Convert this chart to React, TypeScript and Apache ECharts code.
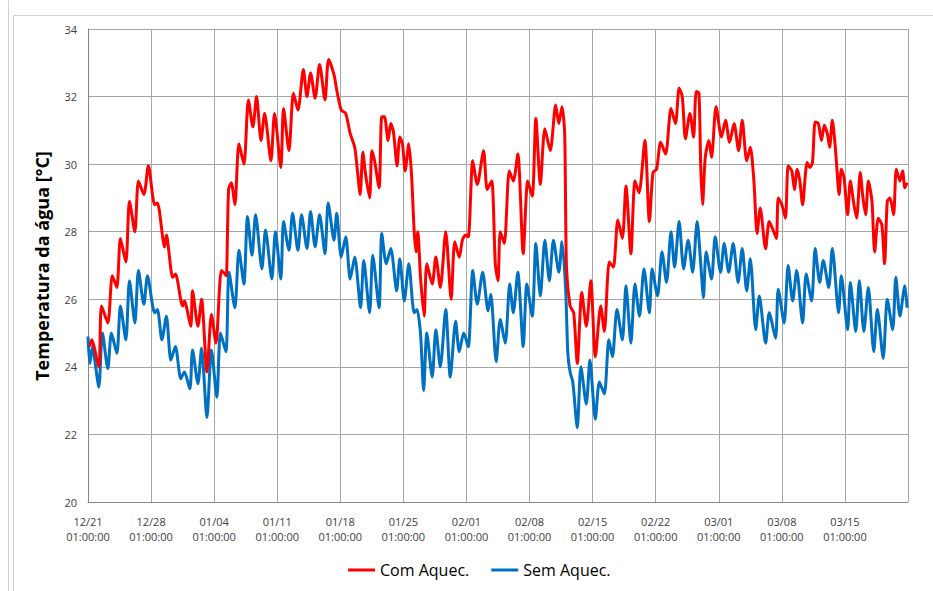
import { useEffect, useRef } from "react";
import * as echarts from "echarts";

// x values are days since 12/21 01:00:00
const xTickLabels = ["12/21", "12/28", "01/04", "01/11", "01/18", "01/25", "02/01", "02/08", "02/15", "02/22", "03/01", "03/08", "03/15"];
const yTicks = { min: 20, max: 34, interval: 2 };

const comAquec: [number, number][] = [
  [0.2, 24.6], [0.4, 24.8], [1.2, 24.0], [1.5, 25.8], [2.2, 25.3], [2.7, 26.7], [3.2, 26.35], [3.6, 27.8], [4.2, 27.1], [4.6, 28.9],
  [5.2, 28.0], [5.6, 29.5], [6.2, 29.1], [6.7, 29.95], [7.4, 28.8], [7.7, 28.85], [8.5, 27.55], [8.7, 27.9], [9.4, 26.65], [9.7, 26.75],
  [10.5, 25.8], [10.7, 25.95], [11.4, 25.2], [11.6, 26.25], [12.2, 25.2], [12.6, 26.0], [13.2, 23.85], [13.7, 25.55], [14.2, 24.7], [14.8, 26.85],
  [15.2, 26.75], [15.35, 26.7], [15.6, 29.25], [15.9, 29.45], [16.3, 28.8], [16.75, 30.6], [17.3, 30.0], [17.8, 31.9], [18.3, 31.1], [18.7, 32.0],
  [19.2, 30.7], [19.6, 31.5], [20.3, 30.1], [20.7, 31.5], [21.4, 29.9], [21.7, 31.65], [22.3, 30.4], [22.8, 32.1], [23.3, 31.6], [23.9, 32.8],
  [24.3, 32.0], [24.7, 32.7], [25.2, 31.95], [25.7, 32.95], [26.3, 31.9], [26.7, 33.1], [27.3, 32.65], [27.6, 32.2], [28.1, 31.6], [28.6, 31.5],
  [29.1, 30.9], [29.6, 30.5], [29.9, 29.8], [30.2, 29.1], [30.5, 30.35], [30.8, 29.7], [31.25, 29.0], [31.5, 30.4], [31.8, 30.1], [32.3, 29.3],
  [32.6, 31.4], [32.9, 31.4], [33.3, 30.7], [33.6, 31.2], [33.9, 30.95], [34.3, 29.95], [34.6, 30.8], [34.9, 30.6], [35.2, 29.8], [35.6, 30.6],
  [35.9, 29.7], [36.2, 28.0], [36.4, 27.4], [36.6, 28.0], [36.9, 26.65], [37.3, 25.5], [37.6, 27.05], [38.2, 26.45], [38.6, 27.25], [39.1, 26.35],
  [39.7, 28.0], [40.3, 26.0], [40.7, 27.7], [41.2, 27.25], [41.55, 27.75], [41.9, 27.9], [42.2, 27.85], [42.7, 30.1], [43.2, 29.4], [43.9, 30.4],
  [44.3, 29.25], [44.8, 29.5], [45.2, 27.05], [45.5, 26.55], [45.75, 28.0], [46.2, 27.65], [46.75, 29.8], [47.2, 29.5], [47.7, 30.3], [48.3, 27.35],
  [48.8, 29.5], [49.3, 29.05], [49.7, 31.35], [50.2, 29.4], [50.7, 31.05], [51.3, 30.4], [51.9, 31.75], [52.25, 31.2], [52.6, 31.7], [52.9, 30.9],
  [53.1, 26.95], [53.5, 25.8], [53.9, 25.6], [54.3, 24.1], [54.8, 26.2], [55.3, 25.2], [55.8, 26.55], [56.3, 24.3], [56.9, 25.8], [57.3, 25.05],
  [57.85, 27.1], [58.3, 26.95], [58.8, 28.35], [59.3, 27.8], [59.7, 29.35], [60.25, 27.35], [60.7, 29.5], [61.15, 29.15], [61.8, 30.7], [62.3, 28.3],
  [62.7, 29.75], [63.1, 29.85], [63.55, 30.65], [64.1, 30.3], [64.7, 31.65], [65.2, 31.2], [65.6, 32.25], [65.95, 32.0], [66.3, 30.75], [66.8, 31.5],
  [67.2, 30.8], [67.5, 32.15], [67.8, 32.1], [68.0, 29.9], [68.2, 28.8], [68.5, 30.2], [68.9, 30.7], [69.2, 30.2], [69.7, 31.7], [70.3, 30.8],
  [70.75, 31.3], [71.2, 30.65], [71.7, 31.2], [72.2, 30.4], [72.6, 31.3], [73.1, 30.1], [73.5, 30.5], [73.9, 29.5], [74.25, 27.95], [74.6, 28.7],
  [75.2, 27.5], [75.6, 28.3], [76.1, 28.0], [76.4, 27.8], [76.6, 29.0], [77.0, 28.8], [77.4, 28.4], [77.7, 29.95], [78.1, 29.8], [78.4, 29.25],
  [78.7, 29.85], [79.0, 29.5], [79.3, 28.8], [79.8, 30.05], [80.1, 29.9], [80.4, 30.05], [80.7, 31.25], [81.05, 31.2], [81.4, 30.7], [81.7, 31.15],
  [82.05, 30.9], [82.3, 30.5], [82.6, 31.3], [82.9, 30.6], [83.1, 29.9], [83.35, 29.1], [83.6, 29.85], [83.9, 29.6], [84.3, 28.5], [84.6, 29.5],
  [85.0, 28.8], [85.3, 28.4], [85.7, 29.75], [86.0, 29.0], [86.3, 28.5], [86.6, 29.5], [87.0, 28.9], [87.3, 27.4], [87.7, 28.4], [88.1, 28.2],
  [88.4, 27.05], [88.7, 28.9], [89.0, 29.0], [89.4, 28.5], [89.7, 29.85], [90.1, 29.5], [90.4, 29.8], [90.65, 29.3], [90.9, 29.45],
];

const semAquec: [number, number][] = [
  [0, 24.9], [0.2, 24.1], [0.5, 24.6], [0.75, 24.2], [1.2, 23.4], [1.6, 25.0], [2.2, 23.95], [2.6, 25.0], [3.2, 24.4], [3.6, 25.8],
  [4.2, 24.8], [4.6, 26.55], [5.2, 25.3], [5.6, 26.85], [6.2, 25.85], [6.6, 26.7], [7.4, 25.6], [7.7, 25.7], [8.2, 24.8], [8.7, 25.5],
  [9.2, 24.2], [9.7, 24.6], [10.3, 23.65], [10.7, 23.85], [11.3, 23.35], [11.6, 24.5], [12.2, 23.5], [12.6, 24.55], [13.2, 22.5], [13.7, 24.5],
  [14.3, 23.1], [14.7, 25.0], [15.3, 24.45], [15.65, 26.8], [16.3, 25.75], [16.75, 27.45], [17.3, 26.45], [17.7, 28.45], [18.2, 27.3], [18.6, 28.5],
  [19.3, 26.9], [19.7, 28.05], [20.4, 26.6], [20.8, 28.0], [21.4, 26.6], [21.7, 28.3], [22.3, 27.45], [22.7, 28.55], [23.3, 27.45], [23.7, 28.5],
  [24.3, 27.5], [24.7, 28.6], [25.2, 27.55], [25.7, 28.5], [26.3, 27.35], [26.65, 28.85], [27.3, 27.75], [27.6, 28.55], [28.1, 27.25], [28.6, 27.85],
  [29.1, 26.6], [29.6, 27.25], [30.25, 25.75], [30.6, 27.15], [31.25, 25.6], [31.6, 27.3], [32.3, 25.75], [32.6, 27.95], [33.1, 27.05], [33.6, 27.5],
  [34.25, 26.25], [34.6, 27.2], [35.1, 25.95], [35.6, 27.05], [36.2, 25.6], [36.5, 25.7], [36.9, 25.0], [37.25, 23.3], [37.6, 25.0], [38.2, 23.7],
  [38.6, 25.1], [39.1, 24.0], [39.7, 25.7], [40.2, 23.7], [40.8, 25.35], [41.2, 24.45], [41.7, 25.0], [42.2, 24.6], [42.7, 26.85], [43.2, 25.85],
  [43.8, 26.8], [44.4, 25.65], [44.7, 26.15], [45.3, 24.15], [45.75, 25.4], [46.3, 24.7], [46.8, 26.45], [47.2, 25.6], [47.7, 26.8], [48.3, 24.6],
  [48.7, 26.45], [49.3, 25.5], [49.7, 27.65], [50.2, 26.1], [50.7, 27.75], [51.2, 26.55], [51.65, 27.75], [52.25, 26.8], [52.6, 27.7], [53.0, 26.35],
  [53.25, 24.4], [53.5, 23.85], [53.8, 23.55], [54.3, 22.2], [54.7, 24.0], [55.3, 22.9], [55.7, 24.2], [56.3, 22.45], [56.75, 23.55], [57.3, 23.2],
  [57.8, 24.8], [58.2, 24.3], [58.7, 25.7], [59.3, 24.8], [59.7, 26.4], [60.25, 24.7], [60.7, 26.45], [61.2, 25.5], [61.7, 26.9], [62.3, 25.6],
  [62.6, 26.9], [63.2, 26.1], [63.7, 27.4], [64.2, 26.5], [64.7, 28.0], [65.1, 26.95], [65.6, 28.3], [66.1, 26.9], [66.6, 27.75], [67.1, 26.8],
  [67.6, 28.3], [68.0, 27.05], [68.3, 26.05], [68.6, 27.4], [69.2, 26.6], [69.6, 27.85], [70.2, 26.8], [70.6, 27.65], [71.1, 26.8], [71.6, 27.65],
  [72.15, 26.5], [72.6, 27.5], [73.1, 26.25], [73.5, 27.2], [74.1, 25.1], [74.5, 26.1], [75.2, 24.7], [75.6, 25.6], [76.3, 24.85], [76.6, 26.3],
  [77.25, 25.3], [77.7, 27.0], [78.2, 25.95], [78.65, 26.85], [79.3, 25.3], [79.7, 26.75], [80.3, 25.95], [80.7, 27.5], [81.2, 26.5], [81.6, 27.15],
  [82.2, 26.35], [82.6, 27.5], [83.3, 25.6], [83.6, 26.7], [84.3, 25.1], [84.6, 26.5], [85.2, 25.05], [85.6, 26.55], [86.1, 25.05], [86.6, 26.35],
  [87.2, 24.45], [87.6, 25.7], [88.25, 24.25], [88.7, 26.0], [89.3, 25.1], [89.65, 26.65], [90.1, 25.5], [90.65, 26.4], [90.9, 25.75],
];

const FONT = "'Open Sans', sans-serif";

export default function App() {
  const ref = useRef<HTMLDivElement>(null);
  useEffect(() => {
    if (!ref.current) return;
    const chart = echarts.init(ref.current, undefined, { renderer: "svg" });
    chart.setOption({
      animation: false,
      backgroundColor: "#ffffff",
      textStyle: { fontFamily: FONT },
      grid: { left: 88, right: 25, top: 29, bottom: 89, containLabel: false },
      legend: {
        left: 348,
        top: 562,
        padding: 0,
        itemWidth: 27,
        itemHeight: 3,
        itemGap: 22,
        icon: "rect",
        textStyle: { fontSize: 16, color: "#000000", fontFamily: FONT },
        data: ["Com Aquec.", "Sem Aquec."],
      },
      xAxis: {
        type: "value",
        min: 0,
        max: 91,
        interval: 7,
        axisLine: { show: true, lineStyle: { color: "#868686", width: 1 } },
        axisTick: { show: false },
        splitLine: { show: true, lineStyle: { color: "#a6a6a6", width: 1 } },
        axisLabel: {
          margin: 12,
          fontSize: 11,
          lineHeight: 15,
          color: "#404040",
          fontFamily: FONT,
          showMaxLabel: false,
          formatter: (v: number) => {
            const i = Math.round(v / 7);
            return xTickLabels[i] ? `${xTickLabels[i]}\n01:00:00` : "";
          },
        },
      },
      yAxis: {
        type: "value",
        min: yTicks.min,
        max: yTicks.max,
        interval: yTicks.interval,
        axisLine: { show: true, lineStyle: { color: "#868686", width: 1 } },
        axisTick: { show: false },
        splitLine: { show: true, lineStyle: { color: "#a6a6a6", width: 1 } },
        axisLabel: { margin: 11, fontSize: 11, color: "#404040", fontFamily: FONT },
      },
      graphic: [
        { type: "line", shape: { x1: 8.5, y1: 0, x2: 8.5, y2: 591 }, style: { stroke: "#d0d0d0", lineWidth: 1 }, silent: true },
        { type: "rect", shape: { x: 13.5, y: 15.5, width: 930, height: 600 }, style: { fill: "none", stroke: "#d0d0d0", lineWidth: 1 }, silent: true },
        {
          type: "text",
          x: 42,
          y: 266,
          rotation: Math.PI / 2,
          style: {
            text: "Temperatura da água [°C]",
            textAlign: "center",
            textVerticalAlign: "middle",
            fontSize: 18,
            fontWeight: "bold",
            fontFamily: FONT,
            fill: "#000000",
          },
        },
      ],
      series: [
        {
          name: "Com Aquec.",
          type: "line",
          data: comAquec,
          showSymbol: false,
          smooth: 0.25,
          color: "#ff0000",
          lineStyle: { color: "#ff0000", width: 3 },
          z: 3,
        },
        {
          name: "Sem Aquec.",
          type: "line",
          data: semAquec,
          showSymbol: false,
          smooth: 0.25,
          color: "#0070c0",
          lineStyle: { color: "#0070c0", width: 3 },
          z: 2,
        },
      ],
    });
    return () => chart.dispose();
  }, []);
  return <div ref={ref} style={{ position: "fixed", left: 0, top: 0, width: 933, height: 591 }} />;
}
